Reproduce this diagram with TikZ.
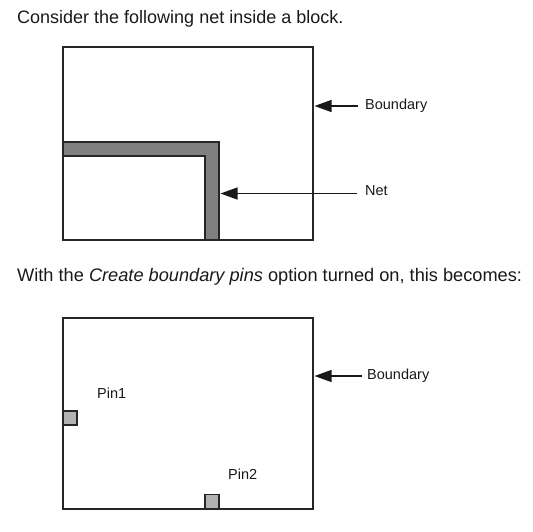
\documentclass[tikz,border=0pt]{standalone}
\usepackage{fontspec}
\setmainfont{Liberation Sans}
\usetikzlibrary{arrows.meta}
\begin{document}
\begin{tikzpicture}[x=1pt,y=-1pt,
  blockbox/.style={draw=black!85, line width=1.4pt, fill=white, inner sep=0pt, outer sep=0pt},
  netfill/.style={draw=black!85, line width=1.2pt, fill=black!50},
  pinbox/.style={draw=black!85, line width=1.1pt, fill=black!30, minimum size=14pt, inner sep=0pt, outer sep=0pt},
  lbl/.style={font=\fontsize{14.5}{16}\selectfont, inner sep=0pt, text=black!90},
  head/.style={font=\fontsize{18}{20}\selectfont, inner sep=0pt, anchor=base west, text=black!90},
  pointer/.style={line width=1.2pt, draw=black!90, -{Triangle[length=17pt,width=12pt]}, shorten >=1.5pt}]
\useasboundingbox (0,0) rectangle (533,531);
% headings
\node[head] (t1) at (17,23) {Consider the following net inside a block.};
\node[head, font=\fontsize{18.2}{20}\selectfont] (t2) at (17,281) {With the \textit{Create boundary pins} option turned on, this becomes:};
% top block
\node[blockbox, minimum width=250pt, minimum height=193pt] (b1) at (188,143.5) {};
\draw[netfill] (63,142) -- (219,142) -- (219,240) -- (205,240) -- (205,156) -- (63,156) -- cycle;
\coordinate (netedge) at (219,193.5);
\node[lbl, anchor=west] (lb1) at (365,106) {Boundary};
\node[lbl, anchor=west] (ln) at (365,191) {Net};
\coordinate (lnstart) at (357,193.5);
\draw[pointer] ([xshift=-7pt]lb1.west) -- (b1.east |- lb1.west);
\draw[pointer] (lnstart) -- (netedge);
% bottom block
\node[blockbox, minimum width=250pt, minimum height=191pt] (b2) at (188,413.5) {};
\node[lbl, anchor=west] (lb2) at (367,376) {Boundary};
\draw[pointer] ([xshift=-5pt]lb2.west) -- (b2.east |- lb2.west);
\node[pinbox] (p1) at (70,418) {};
\node[pinbox] (p2) at (212,501.5) {};
\node[lbl, anchor=base west] (lp1) at (97,398) {Pin1};
\node[lbl, anchor=base west] (lp2) at (228,479) {Pin2};
\end{tikzpicture}
\end{document}
